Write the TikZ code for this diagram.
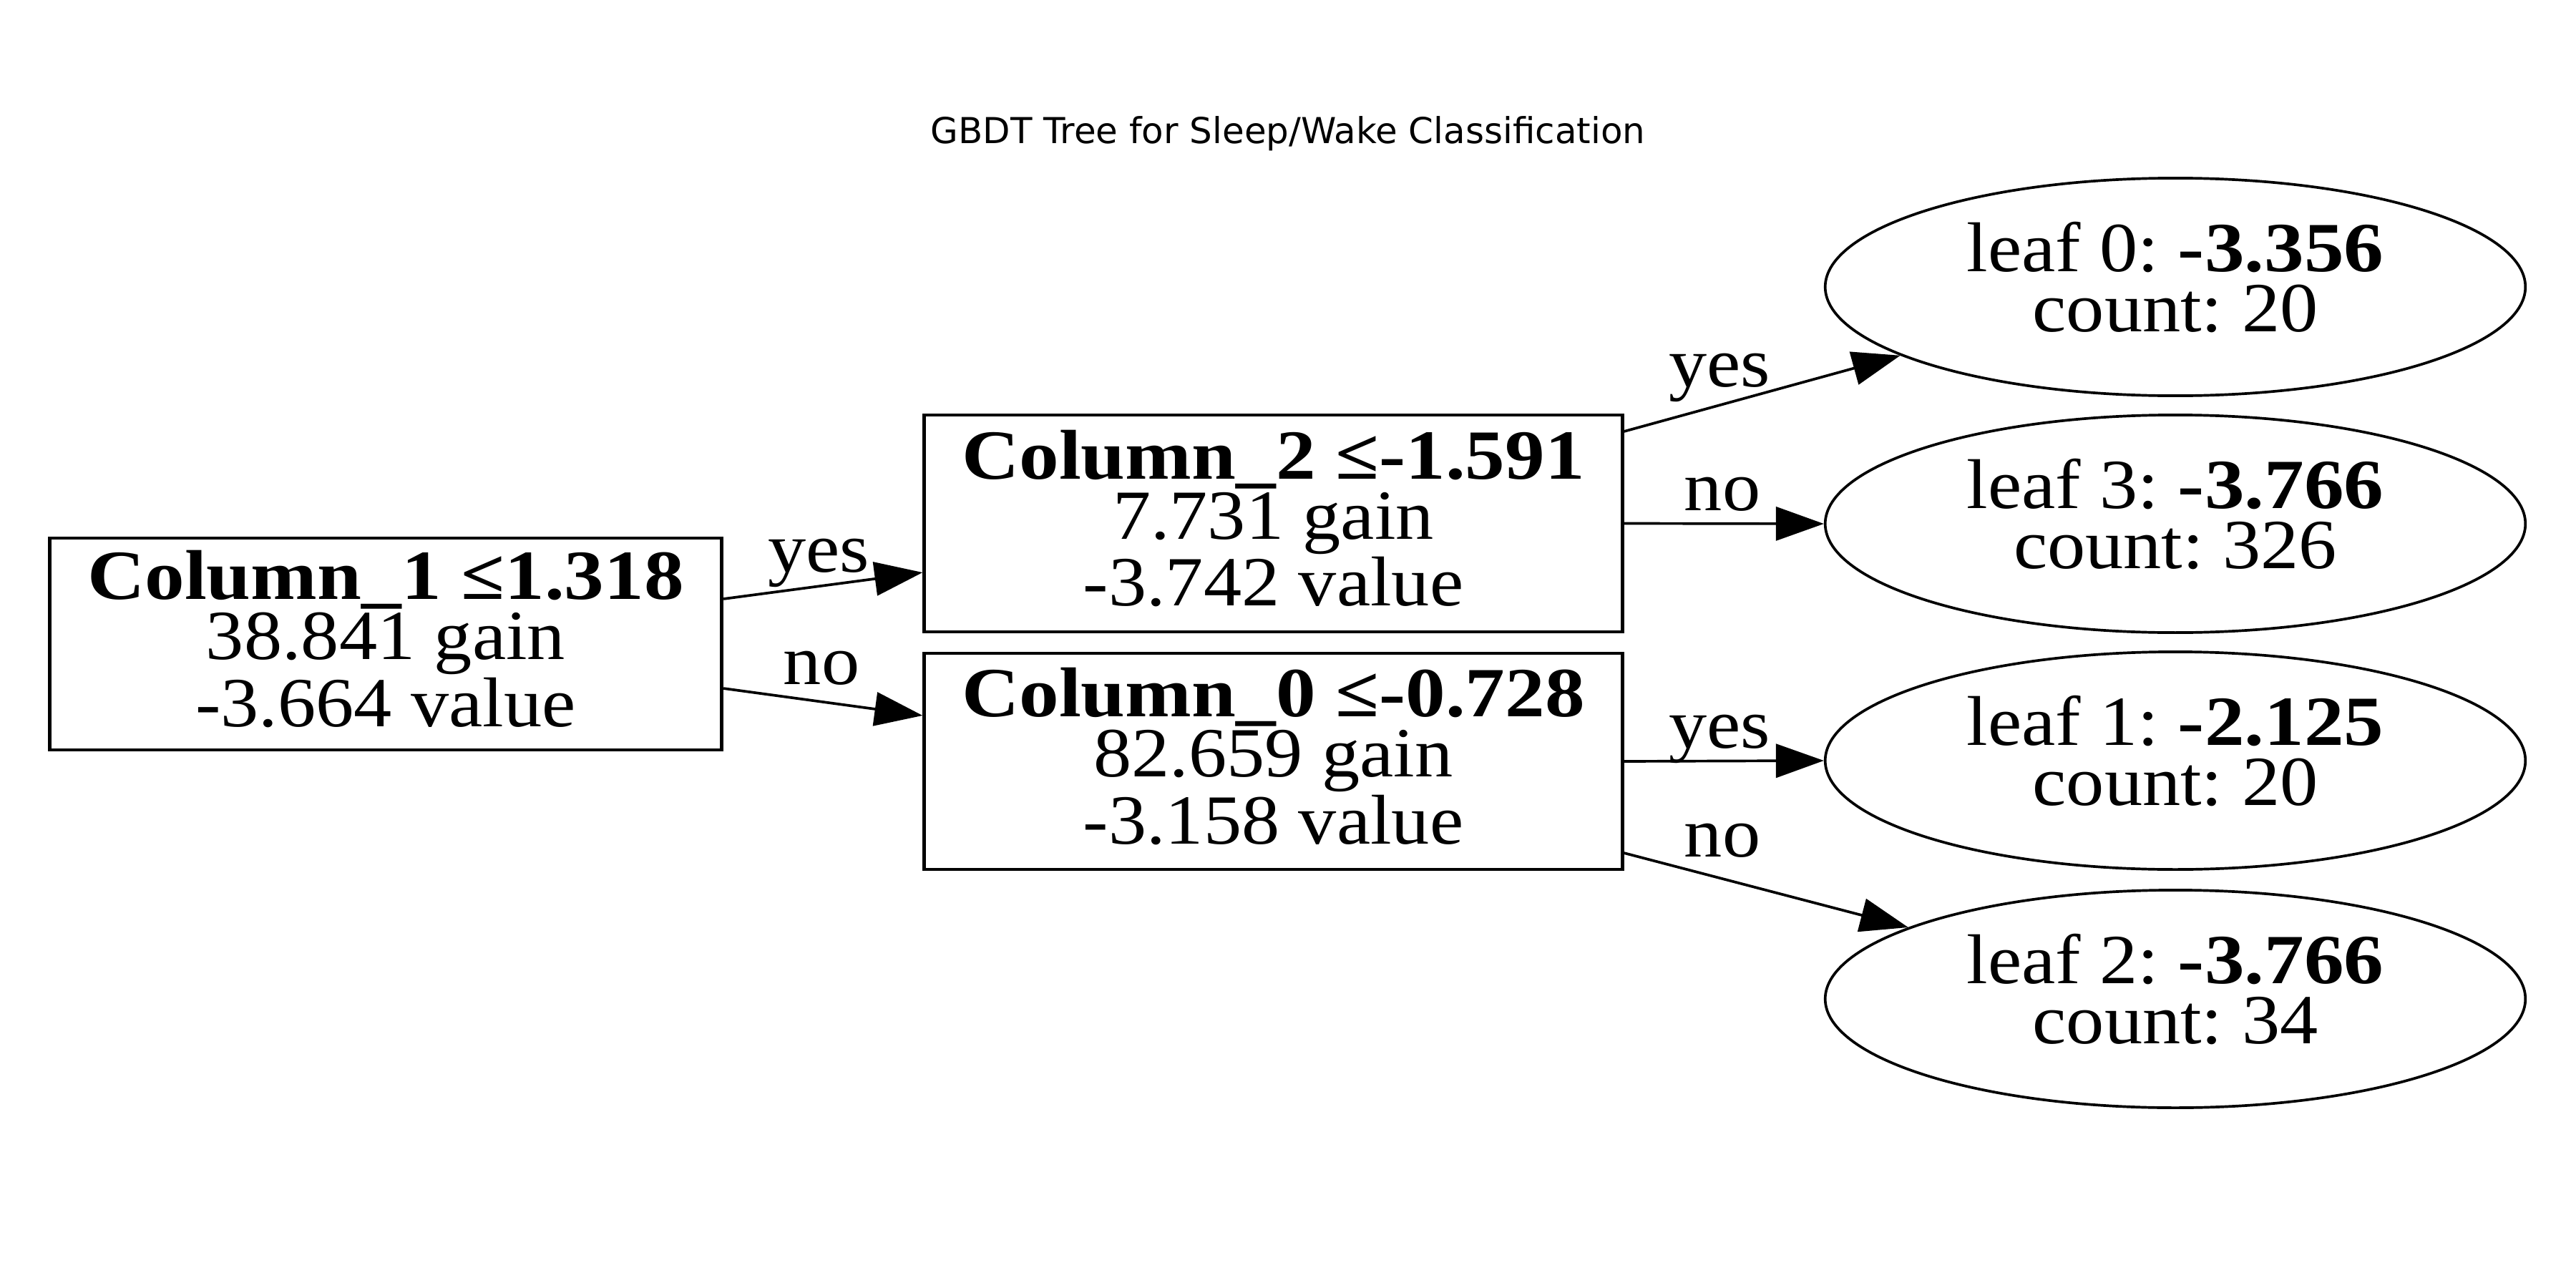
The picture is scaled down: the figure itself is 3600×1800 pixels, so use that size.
\documentclass[tikz,border=0pt]{standalone}
\usepackage{fontspec}
\setmainfont{Liberation Serif}[FakeStretch=1.08,BoldFeatures={FakeStretch=1.13}]
\newfontfamily\titlefont{DejaVu Sans}
\usetikzlibrary{arrows.meta,shapes.geometric}
\newcommand{\dnstrut}[1]{\rule[-#1]{0pt}{#1}}
\frenchspacing
\begin{document}
\begin{tikzpicture}[x=0.01cm,y=-0.01cm,
  nodefont/.style={font=\fontsize{28}{24}\selectfont\frenchspacing},
  split/.style={draw=black,line width=1.35pt,rectangle,inner sep=0pt,align=center,nodefont},
  leafnode/.style={draw=black,line width=1.05pt,ellipse,inner sep=0pt,minimum width=9.78cm,minimum height=3.04cm,align=center,nodefont},
  conn/.style={line width=1.05pt,-{Triangle[length=0.67cm,width=0.47cm]}},
  lbl/.style={anchor=base,inner sep=0pt,nodefont}]
\useasboundingbox[fill=white] (0,0) rectangle (3600,1800);

\node[anchor=base,font=\titlefont\fontsize{14.2}{16}\selectfont] (title) at (1800,200) {GBDT Tree for Sleep/Wake Classification};

\node[split,minimum width=9.39cm,minimum height=2.96cm] (root) at (539,900)
  {\textbf{Column\_1 ≤1.318}\\38.841 gain\\-3.664 value\dnstrut{4.5pt}};
\node[split,minimum width=9.75cm,minimum height=3.03cm] (c2) at (1779.5,731.5)
  {\textbf{Column\_2 ≤-1.591}\\7.731 gain\\-3.742 value\dnstrut{4.5pt}};
\node[split,minimum width=9.75cm,minimum height=3.02cm] (c0) at (1779.5,1064)
  {\textbf{Column\_0 ≤-0.728}\\82.659 gain\\-3.158 value\dnstrut{4.5pt}};

\node[leafnode] (l0) at (3040,401) {leaf 0: \textbf{-3.356}\\count: 20\dnstrut{8pt}};
\node[leafnode] (l3) at (3040,732) {leaf 3: \textbf{-3.766}\\count: 326\dnstrut{8pt}};
\node[leafnode] (l1) at (3040,1063) {leaf 1: \textbf{-2.125}\\count: 20\dnstrut{8pt}};
\node[leafnode] (l2) at (3040,1396) {leaf 2: \textbf{-3.766}\\count: 34\dnstrut{8pt}};

\draw[conn] ([yshift=0.63cm]root.east) -- ([yshift=-0.685cm]c2.west);
\draw[conn] ([yshift=-0.62cm]root.east) -- ([yshift=0.64cm]c0.west);
\draw[conn] ([yshift=1.285cm]c2.east) -- (l0.194.5);
\draw[conn] (c2.east) -- (l3.west);
\draw[conn] (c0.east) -- (l1.west);
\draw[conn] ([yshift=-1.28cm]c0.east) -- (l2.165.3);

\node[lbl] (y1) at (1144,799) {yes};
\node[lbl] (n1) at (1148,956) {no};
\node[lbl] (y2) at (2403,540) {yes};
\node[lbl] (n2) at (2407,713) {no};
\node[lbl] (y3) at (2403,1045) {yes};
\node[lbl] (n3) at (2407,1197) {no};
\end{tikzpicture}
\end{document}
